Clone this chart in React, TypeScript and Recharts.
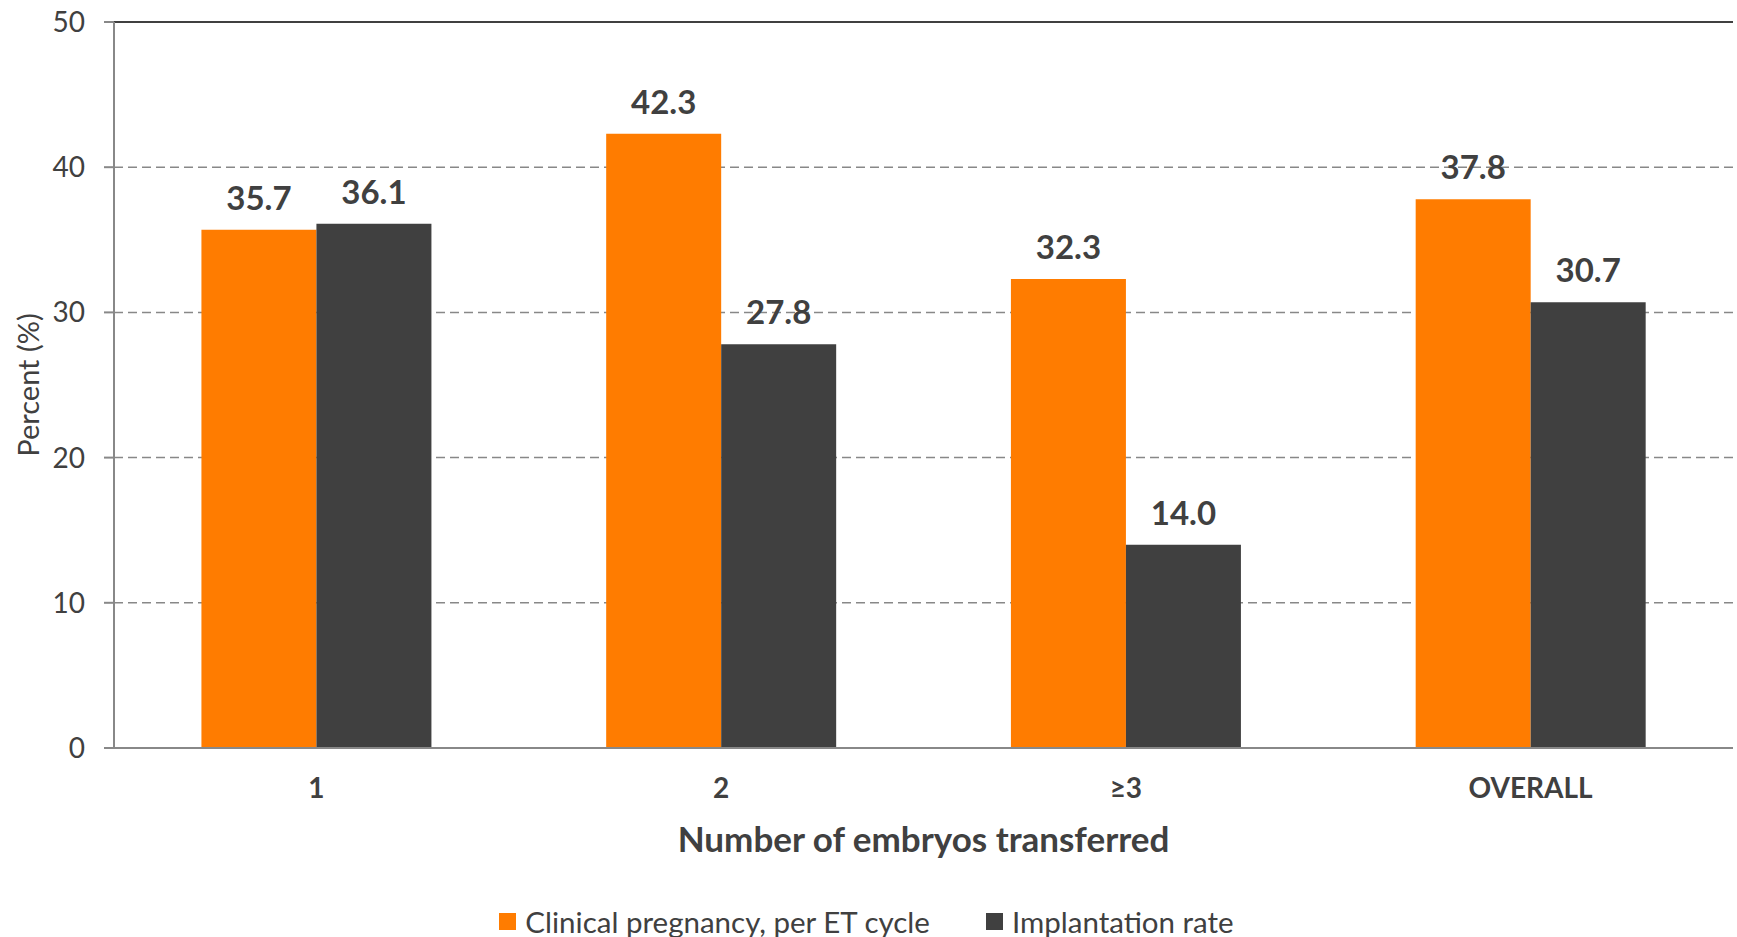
import {
  BarChart,
  Bar,
  XAxis,
  YAxis,
  CartesianGrid,
  Legend,
  LabelList,
  ReferenceLine,
} from 'recharts';

const categories = ['1', '2', '≥3', 'OVERALL'];
const clinicalPregnancy = [35.7, 42.3, 32.3, 37.8];
const implantationRate = [36.1, 27.8, 14.0, 30.7];
const yTicks = [0, 10, 20, 30, 40, 50];
const boundaryTicks = [0, 1, 2, 3, 4];

const FONT = 'Lato, "Open Sans", sans-serif';
const TEXT = '#404040';
const AXIS = '#888888';

const SERIES = [
  { key: 'clinical', name: 'Clinical pregnancy, per ET cycle', color: '#FF7C00' },
  { key: 'implantation', name: 'Implantation rate', color: '#404040' },
];

const data = categories.map((category, i) => ({
  category,
  clinical: clinicalPregnancy[i],
  implantation: implantationRate[i],
}));

const renderLegend = (props: any) => (
  <div
    style={{
      display: 'flex',
      justifyContent: 'center',
      alignItems: 'center',
      height: 32,
      fontFamily: FONT,
      fontSize: 29.5,
      color: TEXT,
    }}
  >
    {(props.payload || []).map((entry: any, i: number) => (
      <div
        key={entry.value}
        style={{ display: 'flex', alignItems: 'center', marginLeft: i ? 56 : 0 }}
      >
        <span
          style={{
            width: 17,
            height: 17,
            background: entry.color,
            marginRight: 9,
            display: 'inline-block',
          }}
        />
        <span>{entry.value}</span>
      </div>
    ))}
  </div>
);

const yLabel = (props: any) => {
  const { x, y, height } = props.viewBox;
  const cx = x + 27;
  const cy = y + height / 2;
  return (
    <text
      x={cx}
      y={cy}
      transform={`rotate(-90, ${cx}, ${cy})`}
      textAnchor="middle"
      dominantBaseline="central"
      fill={TEXT}
      fontSize={29}
      fontFamily={FONT}
    >
      Percent (%)
    </text>
  );
};

const xLabel = (props: any) => {
  const { x, y, width } = props.viewBox;
  return (
    <text
      x={x + width / 2}
      y={y + 89}
      textAnchor="middle"
      dominantBaseline="central"
      fill={TEXT}
      fontSize={35}
      fontWeight="bold"
      fontFamily={FONT}
    >
      Number of embryos transferred
    </text>
  );
};

export default function App() {
  return (
    <div style={{ width: 1737, height: 937, background: '#fff' }}>
      <style>{'body{margin:0}'}</style>
      <BarChart
        width={1737}
        height={937}
        data={data}
        margin={{ top: 22, right: 4, left: 0, bottom: 0 }}
        barCategoryGap="21.6%"
        barGap={0}
        style={{ fontFamily: FONT }}
      >
        <CartesianGrid
          xAxisId="cat"
          vertical={false}
          stroke={AXIS}
          strokeWidth={1.5}
          strokeDasharray="9 5"
        />
        {/* boundary axis: draws the baseline and the between-category tick marks */}
        <XAxis
          xAxisId="base"
          type="number"
          domain={[0, 4]}
          ticks={boundaryTicks}
          allowDataOverflow
          tick={false}
          tickLine={{ stroke: AXIS, strokeWidth: 2 }}
          tickSize={10}
          axisLine={{ stroke: AXIS, strokeWidth: 2 }}
          height={1}
        />
        <XAxis
          xAxisId="cat"
          dataKey="category"
          height={156}
          tickLine={false}
          tickSize={0}
          tickMargin={29}
          axisLine={false}
          tick={{ fill: TEXT, fontSize: 28, fontWeight: 'bold', fontFamily: FONT }}
          label={xLabel}
        />
        <YAxis
          width={114}
          domain={[0, 50]}
          ticks={yTicks}
          tickSize={10}
          tickMargin={19}
          tickLine={{ stroke: AXIS, strokeWidth: 2 }}
          axisLine={{ stroke: AXIS, strokeWidth: 2 }}
          tick={{ fill: TEXT, fontSize: 28, fontFamily: FONT }}
          label={yLabel}
        />
        <ReferenceLine y={50} xAxisId="cat" stroke={TEXT} strokeWidth={2} />
        <ReferenceLine x={4} xAxisId="base" stroke="#666666" strokeWidth={2} />
        <Legend verticalAlign="bottom" content={renderLegend} />
        {SERIES.map((s) => (
          <Bar
            key={s.key}
            xAxisId="cat"
            dataKey={s.key}
            name={s.name}
            fill={s.color}
            isAnimationActive={false}
          >
            <LabelList
              dataKey={s.key}
              position="top"
              offset={20}
              fill={TEXT}
              fontSize={33}
              fontWeight="bold"
              fontFamily={FONT}
              formatter={(v: any) => Number(v).toFixed(1)}
            />
          </Bar>
        ))}
      </BarChart>
    </div>
  );
}
